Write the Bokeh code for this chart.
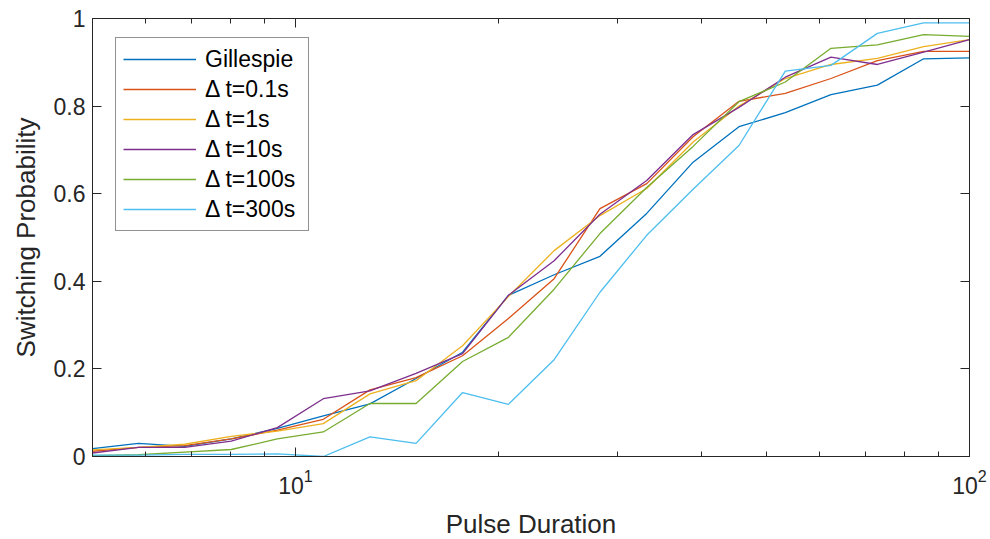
from bokeh.plotting import figure
from bokeh.models import (LinearAxis, LogAxis, FixedTicker, Legend, LegendItem,
                          CustomJSTickFormatter, LogTickFormatter, Range1d)
from bokeh.embed import file_html
from bokeh.resources import INLINE

# Pulse duration (x, log scale)
pulse = [5.0, 5.85, 6.85, 8.03, 9.40, 11.0, 12.9, 15.1, 17.7, 20.7,
         24.2, 28.3, 33.2, 38.9, 45.5, 53.3, 62.3, 73.0, 85.5, 100.0]

gillespie = [0.018, 0.030, 0.023, 0.040, 0.064, 0.093, 0.120, 0.178, 0.238, 0.368,
             0.415, 0.457, 0.555, 0.672, 0.753, 0.785, 0.826, 0.848, 0.908, 0.910]
dt_0_1 = [0.012, 0.021, 0.025, 0.040, 0.060, 0.085, 0.152, 0.180, 0.230, 0.315,
          0.406, 0.566, 0.623, 0.730, 0.811, 0.829, 0.863, 0.904, 0.925, 0.925]
dt_1 = [0.015, 0.021, 0.028, 0.046, 0.058, 0.075, 0.143, 0.173, 0.253, 0.365,
        0.470, 0.550, 0.612, 0.718, 0.800, 0.863, 0.895, 0.909, 0.936, 0.952]
dt_10 = [0.008, 0.021, 0.021, 0.035, 0.066, 0.132, 0.150, 0.190, 0.235, 0.368,
         0.447, 0.553, 0.630, 0.735, 0.797, 0.866, 0.912, 0.895, 0.923, 0.952]
dt_100 = [0.002, 0.004, 0.010, 0.016, 0.040, 0.056, 0.121, 0.121, 0.217, 0.272,
          0.382, 0.509, 0.614, 0.708, 0.810, 0.855, 0.932, 0.940, 0.963, 0.959]
dt_300 = [0.003, 0.003, 0.005, 0.005, 0.006, 0.000, 0.045, 0.030, 0.146, 0.119,
          0.221, 0.375, 0.505, 0.610, 0.710, 0.880, 0.893, 0.966, 0.990, 0.990]

labels = ["Gillespie", "\u0394 t=0.1s", "\u0394 t=1s", "\u0394 t=10s", "\u0394 t=100s", "\u0394 t=300s"]
series = [gillespie, dt_0_1, dt_1, dt_10, dt_100, dt_300]
colors = ["#0072BD", "#D95319", "#EDB120", "#7E2F8E", "#77AC30", "#4DBEEE"]

x_major = [10, 100]
x_minor = [6, 7, 8, 9, 20, 30, 40, 50, 60, 70, 80, 90]
y_ticks = [0, 0.2, 0.4, 0.6, 0.8, 1.0]
y_tick_labels = {0: "0", 0.2: "0.2", 0.4: "0.4", 0.6: "0.6", 0.8: "0.8", 1: "1"}

FONT = "Liberation Sans"
TXT = "#262626"

p = figure(frame_width=877, frame_height=438, x_axis_type="log",
           x_range=Range1d(5, 100), y_range=Range1d(0, 1),
           output_backend="svg", toolbar_location=None,
           min_border_left=92, min_border_right=20, min_border_top=18, min_border_bottom=82)
p.background_fill_color = "white"
p.border_fill_color = "white"
p.outline_line_color = TXT
p.outline_line_width = 1
p.xgrid.visible = False
p.ygrid.visible = False

items = []
for lab, ys, c in zip(labels, series, colors):
    r = p.line(pulse, ys, line_color=c, line_width=1.3)
    items.append(LegendItem(label=lab, renderers=[r]))

# bottom x axis
xa = p.xaxis[0]
xa.ticker = FixedTicker(ticks=x_major, minor_ticks=x_minor)
xa.formatter = LogTickFormatter()
xa.axis_label = "Pulse Duration"
xa.axis_label_text_font = FONT
xa.axis_label_text_font_size = "26px"
xa.axis_label_text_font_style = "normal"
xa.axis_label_text_color = TXT
xa.axis_label_standoff = 12
xa.major_label_text_font = FONT
xa.major_label_text_font_size = "23px"
xa.major_label_text_color = TXT
xa.major_label_standoff = 12

# left y axis
ya = p.yaxis[0]
ya.ticker = FixedTicker(ticks=y_ticks)
ya.major_label_overrides = y_tick_labels
ya.axis_label = "Switching Probability"
ya.axis_label_text_font = FONT
ya.axis_label_text_font_size = "26px"
ya.axis_label_text_font_style = "normal"
ya.axis_label_text_color = TXT
ya.axis_label_standoff = 10
ya.major_label_text_font = FONT
ya.major_label_text_font_size = "23px"
ya.major_label_text_color = TXT
ya.major_label_standoff = 7

for ax in (xa, ya):
    ax.axis_line_color = TXT
    ax.major_tick_line_color = TXT
    ax.minor_tick_line_color = TXT
    ax.major_tick_in = 9
    ax.major_tick_out = 0
    ax.minor_tick_in = 5
    ax.minor_tick_out = 0
ya.minor_tick_line_color = None

blank = CustomJSTickFormatter(code="return ''")
top = LogAxis(ticker=FixedTicker(ticks=x_major, minor_ticks=x_minor), formatter=blank)
right = LinearAxis(ticker=FixedTicker(ticks=y_ticks), formatter=blank)
for ax in (top, right):
    ax.axis_line_color = TXT
    ax.major_tick_line_color = TXT
    ax.minor_tick_line_color = TXT
    ax.major_tick_in = 9
    ax.major_tick_out = 0
    ax.minor_tick_in = 5
    ax.minor_tick_out = 0
    ax.major_label_standoff = 0
    ax.major_label_text_font_size = "1px"
right.minor_tick_line_color = None
p.add_layout(top, "above")
p.add_layout(right, "right")

legend = Legend(items=items, location=(23, 225))
legend.margin = 0
legend.padding = 7
legend.spacing = 2
legend.glyph_width = 73
legend.glyph_height = 28
legend.label_height = 28
legend.label_width = 96
legend.label_standoff = 9
legend.label_text_font = FONT
legend.label_text_font_size = "23px"
legend.label_text_color = "black"
legend.border_line_color = TXT
legend.border_line_width = 1
legend.background_fill_color = "white"
legend.background_fill_alpha = 1
p.add_layout(legend, "center")

open("out.html", "w").write(file_html(p, INLINE))
